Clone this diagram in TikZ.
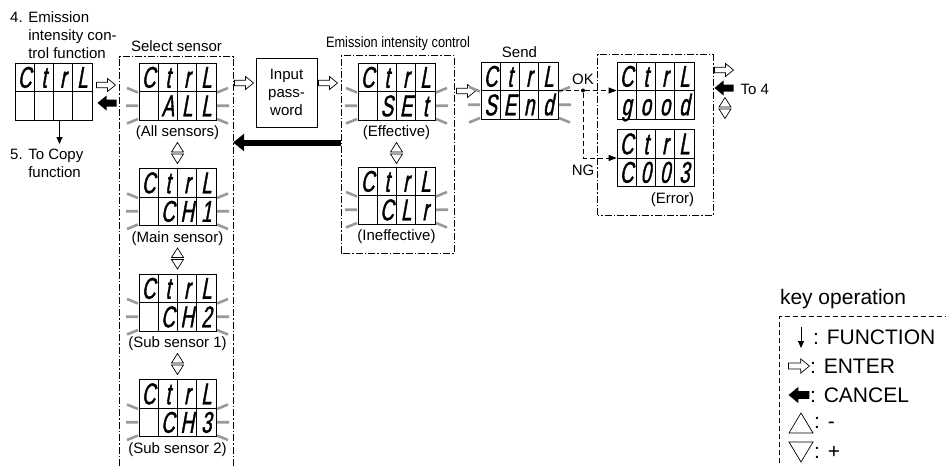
\documentclass[tikz,border=0pt]{standalone}
\usepackage{fontspec}
\setmainfont{Liberation Sans}
\newfontfamily\lcdfont[FakeStretch=0.62,FakeSlant=0.18,FakeBold=1.2]{Liberation Sans}
\usepackage{graphicx}
\usetikzlibrary{positioning,arrows.meta,calc}

\newcommand{\lcd}[4]{%
  \begin{scope}[shift={(#2)}]
    \node[lcdframe] (#1) at (38.5,28.5) {};
    \draw[lcdline] (0,28.5) -- (77,28.5);
    \foreach \k in {1,2,3} \draw[lcdline] (\k*19.25,0) -- (\k*19.25,57);
    \foreach \ch [count=\i] in {#3} \node[seg] (#1-t\i) at (\i*19.25-9.625,14.25) {\ch};
    \foreach \ch [count=\i] in {#4} \node[seg] (#1-b\i) at (\i*19.25-9.625,42.75) {\ch};
  \end{scope}}
\newcommand{\blink}[1]{%
  \begin{scope}[shift={(#1)}]
    \draw[blinkmark] (-12,25) -- (-1,29.5) (-13,42.75) -- (-1,42.75) (-12,60.5) -- (-1,56)
      (89,25) -- (78,29.5) (90,42.75) -- (78,42.75) (89,60.5) -- (78,56);
  \end{scope}}
\newcommand{\updown}[1]{%
  \begin{scope}[shift={(#1)}]
    \draw[keyline] (-6,-1) -- (6,-1) -- (0,-10.5) -- cycle;
    \draw[keyline] (-6,1) -- (6,1) -- (0,10.5) -- cycle;
  \end{scope}}

\tikzset{
  enter/.pic={\draw[fill=white,line width=0.7pt] (-9.5,-2.8) -- (1.5,-2.8) -- (1.5,-6.5) -- (9.5,0)
    -- (1.5,6.5) -- (1.5,2.8) -- (-9.5,2.8) -- cycle;},
  cancel/.pic={\fill (9.5,-3.5) -- (-0.5,-3.5) -- (-0.5,-7.5) -- (-9.5,0)
    -- (-0.5,7.5) -- (-0.5,3.5) -- (9.5,3.5) -- cycle;},
}

\begin{document}
\begin{tikzpicture}[x=1pt,y=-1pt,
    font=\fontsize{15}{17.5}\selectfont,
    region/.style 2 args={minimum width=#1,minimum height=#2,inner sep=0pt},
    stage/.style={line width=0.8pt,dash pattern=on 7pt off 2pt on 1.5pt off 2pt},
    lcdframe/.style={draw,line width=0.8pt,minimum width=77pt,minimum height=57pt,inner sep=0pt},
    lcdline/.style={line width=0.6pt},
    seg/.style={inner sep=0pt,font=\lcdfont\fontsize{30}{30}\selectfont,text height=21pt,text depth=0pt},
    blinkmark/.style={black!40,line width=2.6pt},
    keyline/.style={line width=0.7pt},
    pwbox/.style={draw,line width=0.8pt,minimum width=61pt,minimum height=69pt,align=center,
      font=\fontsize{15}{18}\selectfont},
    okline/.style={line width=0.8pt,dash pattern=on 5pt off 3pt},
    okarr/.style={okline,-{Triangle[length=8pt,width=6pt]}},
    back/.style={line width=6pt,-{Triangle[length=11pt,width=17pt]}},
    fnarr/.style={line width=0.8pt,-{Triangle[length=7pt,width=6pt]}},
    keyfont/.style={font=\fontsize{21}{24}\selectfont},
    keytext/.style={keyfont,anchor=west,inner sep=0pt},
  ]
  \useasboundingbox (0,0) rectangle (946,466);

  \node[region={113pt}{409pt}] (sel) at (176.5,261.5) {};
  \node[region={113pt}{197pt}] (emis) at (398,154.5) {};
  \node[region={115pt}{160pt}] (res) at (655.5,135) {};
  \node[region={170pt}{153pt}] (keys) at (865,393.5) {};
  \draw[stage] (sel.south west) |- (sel.north east) -- (sel.south east);
  \draw[stage] (emis.south west) rectangle (emis.north east);
  \draw[stage] (res.south west) rectangle (res.north east);
  \draw[okline] (keys.north east) -| (keys.south west);

  \node[above=2pt of sel] (selT) {Select sensor};
  \node[above=2pt of emis] (emisT) {\scalebox{0.85}[1]{Emission intensity control}};

  \node[anchor=north west,align=left,inner sep=0pt,font=\fontsize{15}{18}\selectfont] (fn4) at (10,11)
    {4. Emission\\\phantom{4. }intensity con-\\\phantom{4. }trol function};
  \lcd{d0}{15,63}{C,t,r,L}{{},{},{},{}}
  \node[anchor=north west,align=left,inner sep=0pt,font=\fontsize{15}{18}\selectfont] (fn5) at (10,149)
    {5. To Copy\\\phantom{5. }function};
  \coordinate (fnx) at ([xshift=6pt]d0.south);
  \draw[fnarr,shorten >=5pt] (fnx) -- (fnx |- fn5.north);
  \pic at (106,85) {enter};
  \pic at (107,103) {cancel};

  \blink{139,63}
  \lcd{all}{139,63}{C,t,r,L}{{},A,L,L}
  \node[below=2pt of all] (allT) {(All sensors)};
  \updown{177.5,153}
  \blink{139,168.5}
  \lcd{ch1}{139,168.5}{C,t,r,L}{{},C,H,1}
  \node[below=2pt of ch1] (ch1T) {(Main sensor)};
  \updown{177.5,258.5}
  \blink{139,274}
  \lcd{ch2}{139,274}{C,t,r,L}{{},C,H,2}
  \node[below=2pt of ch2] (ch2T) {(Sub sensor 1)};
  \updown{177.5,364}
  \blink{139,379.5}
  \lcd{ch3}{139,379.5}{C,t,r,L}{{},C,H,3}
  \node[below=2pt of ch3] (ch3T) {(Sub sensor 2)};

  \pic at (244,83) {enter};
  \node[pwbox] (pw) at (286.5,92.5) {Input\\pass-\\word};
  \pic at (328,83) {enter};

  \blink{358,63}
  \lcd{set}{358,63}{C,t,r,L}{{},S,E,t}
  \node[below=2pt of set] (setT) {(Effective)};
  \updown{396.5,153}
  \blink{358,167}
  \lcd{clr}{358,167}{C,t,r,L}{{},C,L,r}
  \node[below=2pt of clr] (clrT) {(Ineffective)};
  \coordinate (backstart) at ([yshift=12pt]emis.west);
  \draw[back] (backstart) -- (sel.east |- backstart);

  \pic at (466,91) {enter};
  \blink{481,62}
  \lcd{send}{481,62}{C,t,r,L}{S,E,n,d}
  \node[above=0pt of send] (sendT) {Send};

  \lcd{good}{617,62}{C,t,r,L}{g,o,o,d}
  \lcd{err}{617,129.5}{C,t,r,L}{C,0,0,3}
  \node[below=2pt of err,xshift=17pt] (errT) {(Error)};
  \node[circle,fill,inner sep=0pt,minimum size=4pt] (split) at (583,90.5) {};
  \draw[okline] (send.east) -- (split);
  \draw[okarr] (split) -- (good.west);
  \draw[okarr] (split) |- (err.west);
  \coordinate (ngc) at (split |- err.west);
  \node[above=0pt of split] (ok) {OK};
  \node[below=3pt of ngc] (ng) {NG};

  \pic at (724,70) {enter};
  \pic at (724,88) {cancel};
  \node[anchor=west] (to4) at (737,89) {To 4};
  \updown{725,108}

  \node[keyfont,anchor=base west,inner sep=0pt] (keyT) at ([yshift=12pt]keys.north west) {key operation};
  \draw[fnarr] (801,327) -- (801,348);
  \node[keytext] (kfn) at (813,337) {: FUNCTION};
  \pic[scale=1.1] at (799,366) {enter};
  \node[keytext] (kent) at (810,366) {: ENTER};
  \pic[scale=1.1] at (799,395) {cancel};
  \node[keytext] (kcan) at (810,395) {: CANCEL};
  \draw[keyline] (789,433) -- (813,433) -- (801,413) -- cycle;
  \node[keytext] (kup) at (814,423) {: -};
  \draw[keyline] (789,442) -- (813,442) -- (801,462) -- cycle;
  \node[keytext] (kdn) at (814,452) {: +};
\end{tikzpicture}
\end{document}
